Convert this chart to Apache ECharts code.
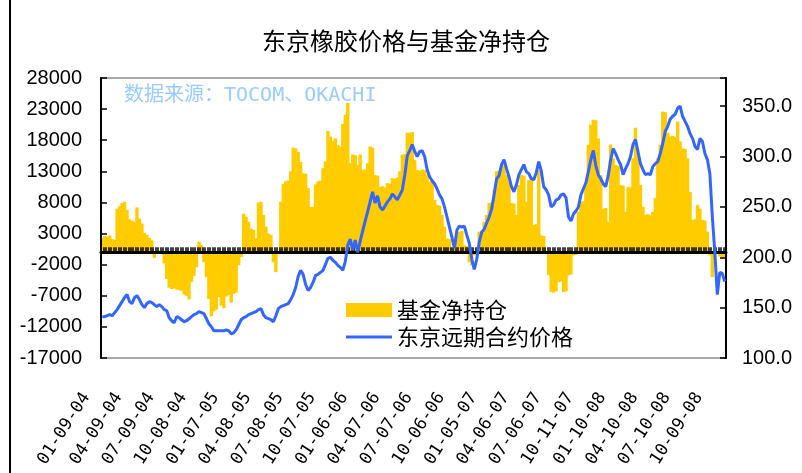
<!DOCTYPE html>
<html>
<head>
<meta charset="utf-8">
<title>东京橡胶价格与基金净持仓</title>
<script src="https://cdn.jsdelivr.net/npm/echarts@6/dist/echarts.min.js"></script>
<style>
  html, body { margin: 0; padding: 0; background: #fff; }
  #main { width: 802px; height: 473px; }
</style>
</head>
<body>
<div id="main"></div>
<script>
// 标题与图例文字
var chartTitle = '东京橡胶价格与基金净持仓';
var sourceNote = '数据来源：TOCOM、OKACHI';
var seriesNames = ['基金净持仓', '东京远期合约价格'];

// x轴刻度标签（每13周一个）
var tickLabels = ['01-09-04', '04-09-04', '07-09-04', '10-08-04', '01-07-05', '04-08-05', '07-08-05',
  '10-07-05', '01-06-06', '04-07-06', '07-07-06', '10-06-06', '01-05-07', '04-06-07', '07-06-07',
  '10-11-07', '01-10-08', '04-10-08', '07-10-08', '10-09-08'];

// 基金净持仓（周，左轴）
var fundNet = [
  2300, 2600, 2500, 2700, 2100, 2000, 7000, 7400, 7900, 8100,
  6800, 5300, 5100, 4900, 7200, 5400, 4600, 3100, 2800, 2300,
  1900, -900, -200, 300, -300, -1800, -4300, -5700, -5900, -5800,
  -6000, -6100, -6200, -6800, -7000, -7600, -4800, -3800, -2400, 1700,
  1200, -1600, -4000, -7500, -10300, -9500, -9200, -7200, -8600, -9000,
  -7100, -6900, -8100, -6700, -6500, -2100, -800, 6200, 5700, 4900,
  3800, 3600, 2200, 8000, 8100, 6000, 4100, 3000, 2800, -1600,
  -3200, -300, 8100, 11000, 11400, 11500, 13000, 16800, 16700, 16100,
  14500, 12700, 12600, 10300, 7300, 7300, 10900, 11400, 11500, 13500,
  14600, 19500, 18600, 17900, 18300, 17200, 17000, 20600, 22100, 24000,
  14300, 15700, 15600, 14000, 15700, 13200, 13300, 14300, 17000, 16800,
  12400, 12300, 10500, 10600, 10400, 11100, 11000, 11900, 11800, 12000,
  13000, 15700, 15800, 19200, 19200, 19300, 14800, 13200, 13100, 13300,
  13200, 12400, 11400, 11300, 8400, 7600, 7500, 6000, 4100, 2200,
  2100, 600, 700, 2700, 3300, 3400, 1100, 1000, -1600, -2100,
  -500, -400, 3300, 3400, 4900, 6000, 7900, 8000, 10000, 13000,
  13100, 14000, 14100, 12400, 11400, 7900, 7800, 6000, 10800, 12400,
  12300, 8100, 11600, 11700, 4400, 4500, 13200, 2700, 2600, 300,
  -3700, -6400, -6500, -6300, -4800, -4700, -6400, -6300, -3700, -3600,
  -500, -400, 6500, 8100, 8200, 10800, 17300, 20500, 21300, 21200,
  18300, 12400, 7000, 7100, 4900, 17300, 15100, 14000, 13900, 10800,
  10700, 6500, 10500, 10400, 15100, 20000, 15700, 10800, 7300, 6000,
  6100, 5900, 6500, 8700, 15100, 17300, 22600, 22500, 19200, 18600,
  18700, 18500, 21000, 17800, 16700, 16600, 15100, 9700, 5200, 5300,
  7600, 7000, 5200, 5100, 3300, -500, -4000, 200, 100, -700,
  -800, -900
];

// 东京远期合约价格（周，右轴）
var tokyoPrice = [
  141, 141, 142, 143, 142, 145, 148, 152, 156, 160,
  163, 156, 154, 160, 162, 158, 153, 150, 154, 156,
  155, 153, 151, 153, 151, 148, 147, 140, 137, 135,
  141, 140, 138, 136, 137, 139, 141, 143, 144, 146,
  145, 144, 139, 134, 131, 127, 127, 127, 127, 127,
  128, 127, 124, 125, 128, 133, 138, 140, 141, 143,
  144, 145, 146, 148, 149, 143, 140, 139, 138, 136,
  142, 149, 151, 152, 153, 154, 158, 163, 170, 181,
  187, 183, 173, 167, 170, 175, 182, 183, 185, 187,
  193, 199, 200, 197, 195, 192, 190, 187, 196, 212,
  218, 207, 217, 205, 216, 226, 236, 245, 255, 265,
  254, 261, 250, 247, 251, 255, 258, 263, 260, 257,
  262, 267, 282, 301, 306, 312, 305, 300, 305, 306,
  300, 287, 280, 276, 273, 268, 262, 258, 250, 240,
  230, 220, 209, 227, 231, 230, 231, 222, 214, 198,
  188, 198, 215, 225, 228, 234, 240, 248, 262, 278,
  281, 292, 297, 288, 280, 270, 265, 272, 282, 287,
  292, 285, 283, 278, 277, 284, 295, 286, 270, 267,
  262, 250, 252, 257, 258, 262, 263, 259, 240, 236,
  243, 246, 250, 262, 268, 274, 285, 297, 306, 291,
  282, 278, 273, 270, 281, 297, 308, 303, 297, 292,
  282, 288, 293, 300, 312, 317, 305, 293, 287, 282,
  283, 282, 290, 293, 295, 303, 313, 325, 330, 337,
  340, 342, 348, 350, 340, 335, 330, 323, 318, 310,
  307, 318, 315, 303, 297, 283, 240, 205, 163, 185,
  184, 176
];

// 周日期（前段为周五，07年10月起为周四）
function pad(n) { return (n < 10 ? '0' : '') + n; }
var weekDates = [];
for (var i = 0; i < fundNet.length; i++) {
  var t = i < 195 ? Date.UTC(2004, 0, 9) + i * 7 * 864e5 : Date.UTC(2007, 9, 11) + (i - 195) * 7 * 864e5;
  var d = new Date(t);
  weekDates.push(pad(d.getUTCMonth() + 1) + '-' + pad(d.getUTCDate()) + '-' + pad(d.getUTCFullYear() % 100));
}

var chart = echarts.init(document.getElementById('main'), null, { renderer: 'canvas' });
chart.setOption({
  animation: false,
  backgroundColor: '#fff',
  title: [{
    text: chartTitle,
    left: 262,
    top: 29,
    padding: 0,
    textStyle: { fontFamily: 'Noto Sans CJK SC', fontSize: 24, fontWeight: 'normal', color: '#000' }
  }, {
    text: sourceNote,
    left: 124,
    top: 86,
    padding: 0,
    textStyle: { fontFamily: "'DejaVu Sans Mono', 'Noto Sans CJK SC'", fontSize: 20, fontWeight: 'normal', color: '#99CCFF' }
  }],
  graphic: [{
    type: 'line',
    shape: { x1: 10, y1: 0, x2: 10, y2: 473 },
    style: { stroke: '#000', lineWidth: 2 }
  }],
  legend: {
    orient: 'vertical',
    left: 346,
    top: 299,
    padding: 0,
    itemGap: 5,
    itemWidth: 46,
    itemHeight: 14,
    textStyle: { fontFamily: 'Noto Sans CJK SC', fontSize: 22, color: '#000' },
    data: [
      { name: seriesNames[0], icon: 'rect' },
      { name: seriesNames[1], icon: 'path://M0,0H46V3H0Z' }
    ]
  },
  grid: {
    left: 101, right: 76, top: 78, bottom: 115,
    show: true, borderColor: '#8c8c8c', borderWidth: 1.5
  },
  xAxis: [{
    type: 'category',
    data: weekDates,
    boundaryGap: true,
    z: 3,
    axisLine: { onZero: true, lineStyle: { color: '#000', width: 3 } },
    axisTick: { show: true, interval: 0, inside: true, length: 5, lineStyle: { color: '#000', width: 1.5 } },
    axisLabel: { show: false },
    splitLine: { show: false }
  }, {
    type: 'category',
    data: weekDates,
    position: 'bottom',
    boundaryGap: true,
    axisLine: { show: false, onZero: false },
    axisTick: { show: false },
    axisLabel: {
      interval: 12,
      rotate: 57,
      margin: 12,
      padding: [0, 29, 0, 0],
      fontSize: 17,
      fontFamily: 'DejaVu Sans Mono',
      color: '#000',
      formatter: function (v, idx) { return tickLabels[idx / 13] || v; }
    },
    splitLine: { show: false }
  }],
  yAxis: [{
    type: 'value',
    min: -17000,
    max: 28000,
    interval: 5000,
    z: 3,
    axisLine: { show: true, lineStyle: { color: '#000', width: 2 } },
    axisTick: { show: true, inside: true, length: 6, lineStyle: { color: '#000', width: 1.5 } },
    axisLabel: {
      fontSize: 20, fontFamily: 'Liberation Sans', color: '#000', margin: 19,
      formatter: function (v) { return String(v); }
    },
    splitLine: { show: false }
  }, {
    type: 'value',
    position: 'right',
    min: 100,
    max: 378,
    interval: 50,
    z: 3,
    axisLine: { show: true, lineStyle: { color: '#000', width: 2 } },
    axisTick: { show: true, inside: true, length: 6, lineStyle: { color: '#000', width: 1.5 } },
    axisLabel: {
      fontSize: 20, fontFamily: 'Liberation Sans', color: '#000', margin: 16,
      formatter: function (v) { return v % 50 === 0 ? v.toFixed(1) : ''; }
    },
    splitLine: { show: false }
  }],
  series: [{
    name: seriesNames[0],
    type: 'bar',
    yAxisIndex: 0,
    data: fundNet,
    barWidth: 3.4,
    itemStyle: { color: '#FFCC00' },
    z: 2
  }, {
    name: seriesNames[1],
    type: 'line',
    yAxisIndex: 1,
    data: tokyoPrice,
    symbol: 'none',
    lineStyle: { color: '#3366FF', width: 3 },
    itemStyle: { color: '#3366FF' },
    z: 5
  }]
});
</script>
</body>
</html>
